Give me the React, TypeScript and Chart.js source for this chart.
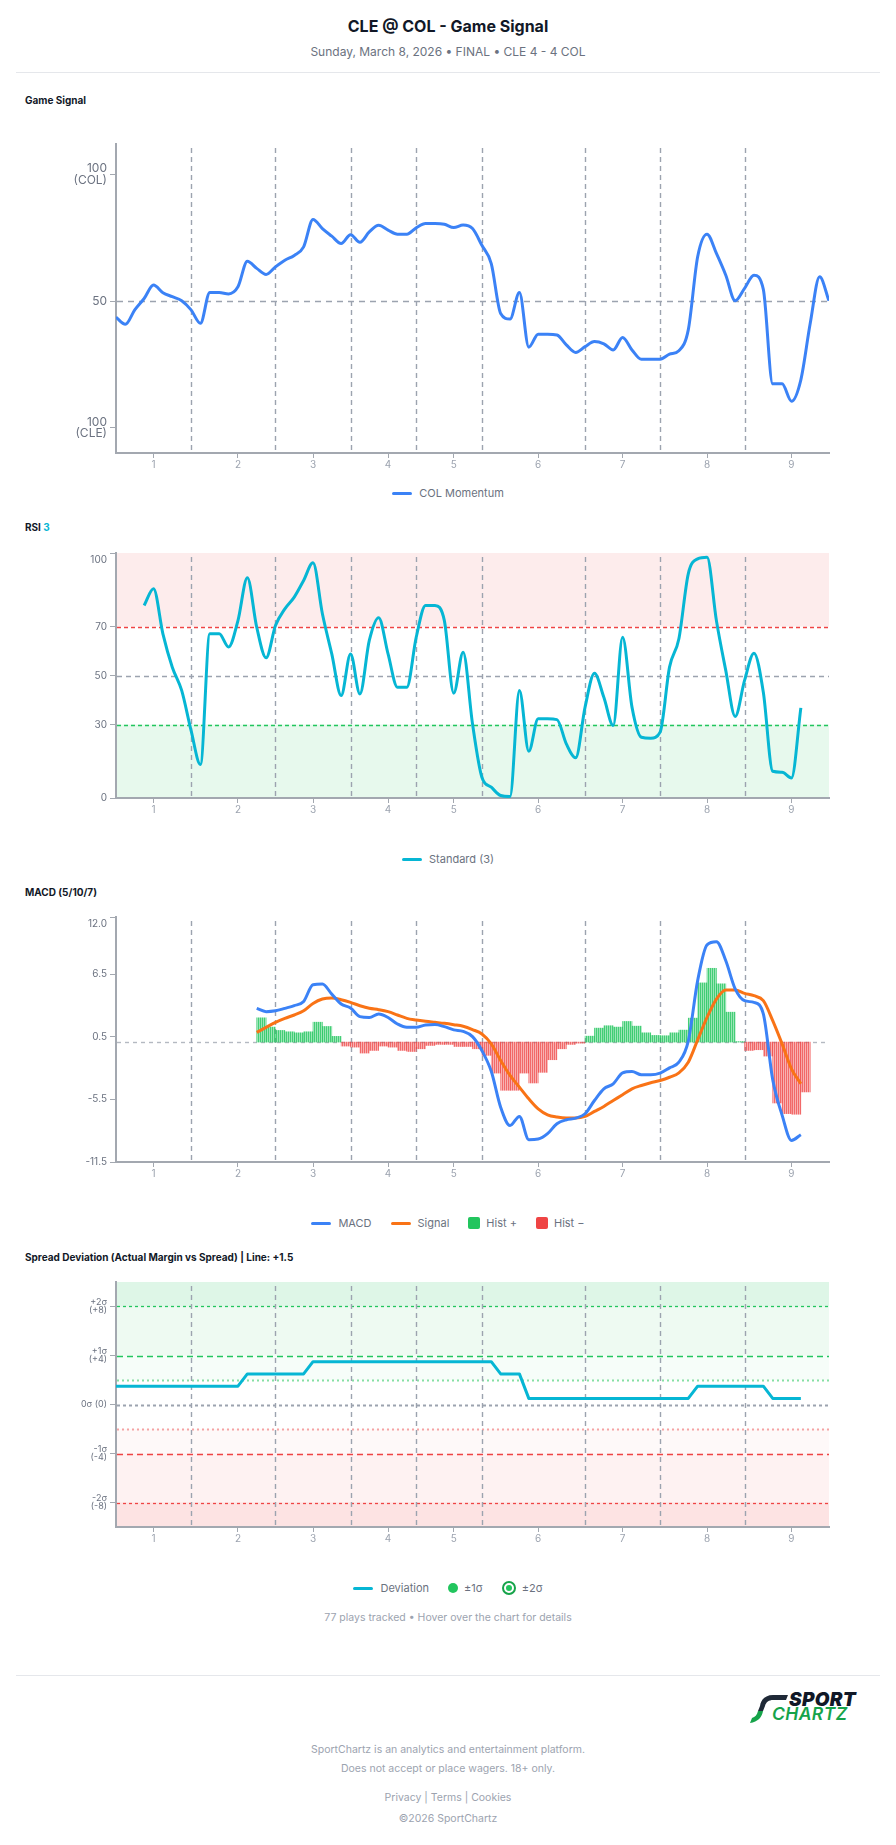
import React, { useEffect, useRef } from 'react';
import { Chart, registerables } from 'chart.js';

Chart.register(...registerables);

const FONT = "Inter, 'Noto Sans', 'DejaVu Sans', sans-serif";
Chart.defaults.font.family = FONT;

// ---------- data ----------
const INNING_LABELS = ['1', '2', '3', '4', '5', '6', '7', '8', '9'];
const INNING_TICKS = [4, 13, 21, 29, 36, 45, 54, 63, 72];
const INNING_BREAKS = [8, 17, 25, 32, 39, 50, 58, 67];
const PLAY_MAX = 76;

const MOMENTUM = [
  43.6, 40.8, 46.5, 51, 56.3, 53.3, 51.7, 50.1, 46.5, 41.2,
  53.4, 53.4, 52.8, 55.6, 65.7, 62.9, 60.5, 63.5, 66.1, 68,
  71.4, 82.2, 78.6, 75.6, 72.7, 76.2, 73.2, 77.3, 79.9, 78,
  76.4, 76.4, 78.9, 80.6, 80.6, 80.3, 79, 80, 78.6, 72,
  64.8, 45.1, 42.9, 53.4, 31.8, 36.9, 36.9, 36.6, 32.7, 29.7,
  32, 34, 33.1, 30.7, 35.6, 30.7, 27, 27, 27, 29,
  30.4, 38.6, 67.5, 76.4, 68.8, 60.2, 50.1, 55, 60.2, 54.6,
  17.3, 17.3, 10.4, 18.9, 41.2, 59.6, 50.1,
];
const SIGNAL_TICKS = [100, 50, 0];
const SIGNAL_TICK_LABELS = [['100', '(COL)'], ['50'], ['100', '(CLE)']];

const RSI_START = 3;
const RSI_VALUES = [
  78.6, 85.4, 67, 53.4, 43.9, 27.6, 13.7, 67, 67, 61.6,
  72.4, 89.9, 69.7, 57.2, 70.4, 77.2, 82, 88.8, 96, 75.2,
  58.8, 41.8, 58.8, 42.5, 64.3, 73.6, 58.8, 45.2, 45.2, 65.6,
  78.6, 78.6, 72.4, 42.8, 59.5, 30.3, 8.5, 4.4, 1, 0.6,
  43.9, 19.1, 32.3, 32.3, 32, 22.1, 16.4, 37.1, 50.9, 41.1,
  29.6, 65.6, 37.1, 24.8, 24.4, 26.9, 53.4, 65, 91.5, 97.6,
  98.3, 72.4, 52, 33.3, 48, 59.1, 43.2, 10.9, 10.5, 8.2,
  36.8,
];
const RSI_TICKS = [100, 70, 50, 30, 0];
const RSI_TICK_LABELS = ['100', '70', '50', '30', '0'];

const MACD_START = 15;
const MACD_VALUES = [
  3.24, 2.92, 3.0, 3.24, 3.5, 3.9, 5.5, 5.57, 4.6, 3.65,
  3.27, 2.44, 2.36, 2.7, 2.36, 1.74, 1.42, 1.42, 1.65, 1.68,
  1.48, 1.17, 1.03, 0.53, -0.81, -2.8, -6.24, -8.0, -7.13, -9.36,
  -9.3, -8.78, -7.83, -7.45, -7.29, -6.87, -5.6, -4.48, -4.0, -2.95,
  -2.82, -3.14, -3.14, -2.98, -2.47, -1.93, 0.1, 5.9, 9.33, 9.62,
  7.8, 5.1, 3.97, 3.81, 2.7, -3.6, -7.0, -9.43, -8.88,
];
const SIGNAL_VALUES = [
  0.94, 1.42, 1.9, 2.28, 2.6, 3.0, 3.71, 4.13, 4.23, 4.07,
  3.81, 3.49, 3.24, 3.11, 2.92, 2.6, 2.28, 2.12, 2.0, 1.9,
  1.8, 1.67, 1.52, 1.2, 0.78, -0.17, -1.77, -3.2, -4.32, -5.44,
  -6.4, -6.97, -7.19, -7.29, -7.29, -7.13, -6.65, -6.17, -5.6, -5.05,
  -4.48, -4.16, -3.9, -3.68, -3.37, -2.95, -1.93, 0.21, 2.37, 4.13,
  5.0, 5.0, 4.67, 4.45, 3.97, 2.06, -0.17, -2.56, -4.0,
];
const HIST_VALUES = [
  2.33, 1.44, 1.12, 0.99, 0.89, 0.99, 1.91, 1.5, 0.55, -0.38,
  -0.48, -1.05, -0.8, -0.38, -0.48, -0.8, -0.9, -0.64, -0.32, -0.22,
  -0.22, -0.42, -0.42, -0.64, -1.27, -2.97, -4.62, -4.62, -2.97, -3.92,
  -2.9, -1.69, -0.64, -0.22, -0.1, 0.57, 1.34, 1.57, 1.44, 1.98,
  1.53, 0.89, 0.64, 0.61, 0.89, 1.15, 2.3, 5.68, 7.08, 5.59,
  2.87, 0.05, -0.8, -0.73, -1.34, -5.84, -6.86, -6.92, -4.78,
];
const MACD_TICKS = [12, 6.5, 0.5, -5.5, -11.5];
const MACD_TICK_LABELS = ['12.0', '6.5', '0.5', '-5.5', '-11.5'];

const DEVIATION = [
  1.5, 1.5, 1.5, 1.5, 1.5, 1.5, 1.5, 1.5, 1.5, 1.5, 1.5, 1.5, 1.5, 1.5,
  2.5, 2.5, 2.5, 2.5, 2.5, 2.5, 2.5,
  3.5, 3.5, 3.5, 3.5, 3.5, 3.5, 3.5, 3.5, 3.5, 3.5, 3.5, 3.5, 3.5, 3.5, 3.5, 3.5, 3.5, 3.5, 3.5, 3.5,
  2.5, 2.5, 2.5,
  0.5, 0.5, 0.5, 0.5, 0.5, 0.5, 0.5, 0.5, 0.5, 0.5, 0.5, 0.5, 0.5, 0.5, 0.5, 0.5, 0.5, 0.5,
  1.5, 1.5, 1.5, 1.5, 1.5, 1.5, 1.5, 1.5,
  0.5, 0.5, 0.5, 0.5,
];
const SPREAD_TICKS = [8, 4, 0, -4, -8];
const SPREAD_TICK_LABELS = [['+2σ', '(+8)'], ['+1σ', '(+4)'], ['0σ (0)'], ['-1σ', '(-4)'], ['-2σ', '(-8)']];

const LEGEND_SIGNAL = [{ kind: 'line', color: '#3b82f6', label: 'COL Momentum' }];
const LEGEND_RSI = [{ kind: 'line', color: '#06b6d4', label: 'Standard (3)' }];
const LEGEND_MACD = [
  { kind: 'line', color: '#3b82f6', label: 'MACD' },
  { kind: 'line', color: '#f97316', label: 'Signal' },
  { kind: 'box', color: '#22c55e', label: 'Hist +' },
  { kind: 'box', color: '#ef4444', label: 'Hist −' },
];
const LEGEND_SPREAD = [
  { kind: 'line', color: '#06b6d4', label: 'Deviation' },
  { kind: 'dot', color: '#22c55e', label: '±1σ' },
  { kind: 'ring', color: '#16a34a', label: '±2σ' },
];

// ---------- styling ----------
const AXIS = '#a3a8b0';
const BLUE = '#3b82f6';
const CYAN = '#06b6d4';
const ORANGE = '#f97316';
const GREEN = '#22c55e';
const RED = '#ef4444';
const CANVAS_W = 864;

type Band = { from: number; to: number; color: string };
type HLine = { value: number; color: string; dash: number[]; width: number };
type Overlay = {
  bands?: Band[];
  hlines?: HLine[];
  yTicks: number[];
  yLabels: (string | string[])[];
  yFont: number;
  yLineHeight: number;
};

function makeOverlay(o: Overlay) {
  return {
    id: 'overlay',
    beforeDraw(chart: any) {
      const { ctx, chartArea: a, scales } = chart;
      const y = scales.y;
      ctx.save();
      for (const b of o.bands || []) {
        const y1 = y.getPixelForValue(b.to);
        const y2 = y.getPixelForValue(b.from);
        ctx.fillStyle = b.color;
        ctx.fillRect(a.left, y1, a.right - a.left, y2 - y1);
      }
      ctx.restore();
    },
    beforeDatasetsDraw(chart: any) {
      const { ctx, chartArea: a, scales } = chart;
      const x = scales.x;
      const y = scales.y;
      ctx.save();
      for (const l of o.hlines || []) {
        const py = Math.round(y.getPixelForValue(l.value)) + 0.5;
        ctx.beginPath();
        ctx.setLineDash(l.dash);
        ctx.lineWidth = l.width;
        ctx.strokeStyle = l.color;
        ctx.moveTo(a.left + 1, py);
        ctx.lineTo(a.right, py);
        ctx.stroke();
      }
      ctx.setLineDash([5, 4]);
      ctx.lineDashOffset = 0;
      ctx.lineWidth = 1.4;
      ctx.strokeStyle = '#9ca3af';
      for (const v of INNING_BREAKS) {
        const px = Math.round(x.getPixelForValue(v)) + 0.5;
        ctx.beginPath();
        ctx.moveTo(px, a.top + 4);
        ctx.lineTo(px, a.bottom);
        ctx.stroke();
      }
      ctx.restore();
    },
    afterDraw(chart: any) {
      const { ctx, chartArea: a, scales } = chart;
      const y = scales.y;
      ctx.save();
      ctx.font = `${o.yFont}px ${FONT}`;
      ctx.fillStyle = '#6b7280';
      ctx.textAlign = 'right';
      ctx.textBaseline = 'middle';
      o.yTicks.forEach((v, i) => {
        const raw = o.yLabels[i];
        const lines = Array.isArray(raw) ? raw : [raw];
        const h = lines.length * o.yLineHeight;
        let cy = y.getPixelForValue(v);
        if (cy - h / 2 < a.top) cy = a.top + h / 2 + 1;
        lines.forEach((t, j) => {
          ctx.fillText(t, a.left - 9, cy - h / 2 + o.yLineHeight * (j + 0.5));
        });
      });
      ctx.restore();
    },
  };
}

function xScale(height: number) {
  return {
    type: 'linear',
    min: 0,
    max: PLAY_MAX,
    offset: false,
    afterBuildTicks: (s: any) => {
      s.ticks = INNING_TICKS.map((v) => ({ value: v }));
    },
    afterFit: (s: any) => {
      s.height = height;
    },
    ticks: {
      autoSkip: false,
      maxRotation: 0,
      minRotation: 0,
      color: '#9ca3af',
      font: { size: 10 },
      padding: 1,
      callback: (v: number) => {
        const i = INNING_TICKS.indexOf(v);
        return i >= 0 ? INNING_LABELS[i] : '';
      },
    },
    grid: { display: true, offset: false, drawOnChartArea: false, drawTicks: true, tickLength: 5, color: AXIS, lineWidth: 1 },
    border: { display: true, color: AXIS, width: 2 },
  };
}

function yScale(min: number, max: number, ticks: number[]) {
  return {
    type: 'linear',
    min,
    max,
    afterBuildTicks: (s: any) => {
      s.ticks = ticks.map((v) => ({ value: v }));
    },
    afterFit: (s: any) => {
      s.width = 100;
    },
    ticks: { display: false },
    grid: { display: true, drawOnChartArea: false, drawTicks: true, tickLength: 6, color: AXIS, lineWidth: 1 },
    border: { display: true, color: AXIS, width: 2 },
  };
}

function baseOptions(padTop: number, xHeight: number, min: number, max: number, ticks: number[]) {
  return {
    responsive: false,
    animation: false,
    events: [],
    layout: { padding: { top: padTop, right: 51, bottom: 0, left: 0 } },
    scales: { x: xScale(xHeight), y: yScale(min, max, ticks) },
    plugins: { legend: { display: false }, tooltip: { enabled: false } },
  };
}

function stripe(canvas: HTMLCanvasElement, c1: string, c2: string) {
  const p = document.createElement('canvas');
  p.width = 2;
  p.height = 1;
  const g = p.getContext('2d')!;
  g.fillStyle = c1;
  g.fillRect(0, 0, 1, 1);
  g.fillStyle = c2;
  g.fillRect(1, 0, 1, 1);
  return canvas.getContext('2d')!.createPattern(p, 'repeat');
}

function signalConfig() {
  return {
    type: 'line',
    data: {
      datasets: [
        {
          data: MOMENTUM.map((v, i) => ({ x: i, y: v })),
          borderColor: BLUE,
          borderWidth: 3,
          pointRadius: 0,
          cubicInterpolationMode: 'monotone',
          fill: false,
        },
      ],
    },
    options: baseOptions(24, 25, -10, 112, SIGNAL_TICKS),
    plugins: [
      makeOverlay({
        hlines: [{ value: 50, color: '#9ca3af', dash: [6, 5], width: 1.4 }],
        yTicks: SIGNAL_TICKS,
        yLabels: SIGNAL_TICK_LABELS,
        yFont: 12,
        yLineHeight: 11.5,
      }),
    ],
  };
}

function rsiConfig() {
  return {
    type: 'line',
    data: {
      datasets: [
        {
          data: RSI_VALUES.map((v, i) => ({ x: i + RSI_START, y: v })),
          borderColor: CYAN,
          borderWidth: 3,
          pointRadius: 0,
          cubicInterpolationMode: 'monotone',
          fill: false,
        },
      ],
    },
    options: baseOptions(17, 24, 0, 100, RSI_TICKS),
    plugins: [
      makeOverlay({
        bands: [
          { from: 70, to: 100, color: 'rgba(239,68,68,0.1)' },
          { from: 0, to: 30, color: 'rgba(34,197,94,0.11)' },
        ],
        hlines: [
          { value: 70, color: RED, dash: [4, 3], width: 1.3 },
          { value: 50, color: '#9ca3af', dash: [5, 4], width: 1.3 },
          { value: 30, color: GREEN, dash: [4, 3], width: 1.3 },
        ],
        yTicks: RSI_TICKS,
        yLabels: RSI_TICK_LABELS,
        yFont: 10,
        yLineHeight: 12,
      }),
    ],
  };
}

function macdConfig(canvas: HTMLCanvasElement) {
  const gPat = stripe(canvas, 'rgba(34,197,94,0.85)', 'rgba(34,197,94,0.45)');
  const rPat = stripe(canvas, 'rgba(239,68,68,0.8)', 'rgba(239,68,68,0.42)');
  return {
    type: 'line',
    data: {
      datasets: [
        {
          type: 'line',
          order: 0,
          data: MACD_VALUES.map((v, i) => ({ x: i + MACD_START, y: v })),
          borderColor: BLUE,
          borderWidth: 3,
          pointRadius: 0,
          cubicInterpolationMode: 'monotone',
          fill: false,
        },
        {
          type: 'line',
          order: 0,
          data: SIGNAL_VALUES.map((v, i) => ({ x: i + MACD_START, y: v })),
          borderColor: ORANGE,
          borderWidth: 3,
          pointRadius: 0,
          cubicInterpolationMode: 'monotone',
          fill: false,
        },
        {
          type: 'bar',
          order: 2,
          data: HIST_VALUES.map((v, i) => ({ x: i + MACD_START + 0.5, y: v })),
          backgroundColor: HIST_VALUES.map((v) => (v >= 0 ? gPat : rPat)),
          borderWidth: 0,
          barPercentage: 1,
          categoryPercentage: 1,
        },
      ],
    },
    options: baseOptions(17, 24, -11.5, 12, MACD_TICKS),
    plugins: [
      makeOverlay({
        hlines: [{ value: 0, color: '#b4b9c1', dash: [4, 4], width: 1.4 }],
        yTicks: MACD_TICKS,
        yLabels: MACD_TICK_LABELS,
        yFont: 10,
        yLineHeight: 12,
      }),
    ],
  };
}

function spreadConfig() {
  return {
    type: 'line',
    data: {
      datasets: [
        {
          data: DEVIATION.map((v, i) => ({ x: i, y: v })),
          borderColor: CYAN,
          borderWidth: 3,
          borderJoinStyle: 'round',
          pointRadius: 0,
          tension: 0,
          fill: false,
        },
      ],
    },
    options: baseOptions(17, 24, -10, 10, SPREAD_TICKS),
    plugins: [
      makeOverlay({
        bands: [
          { from: 8, to: 10, color: 'rgba(34,197,94,0.15)' },
          { from: 4, to: 8, color: 'rgba(34,197,94,0.08)' },
          { from: 2, to: 4, color: 'rgba(34,197,94,0.04)' },
          { from: -4, to: -2, color: 'rgba(239,68,68,0.03)' },
          { from: -8, to: -4, color: 'rgba(239,68,68,0.07)' },
          { from: -10, to: -8, color: 'rgba(239,68,68,0.15)' },
        ],
        hlines: [
          { value: 8, color: GREEN, dash: [3, 3], width: 1.3 },
          { value: 4, color: GREEN, dash: [6, 4], width: 1.3 },
          { value: 2, color: '#86e0a4', dash: [2, 3], width: 2 },
          { value: 0, color: '#9ca3af', dash: [3, 3], width: 2 },
          { value: -2, color: '#f5a3a3', dash: [2, 3], width: 2 },
          { value: -4, color: RED, dash: [6, 4], width: 1.3 },
          { value: -8, color: RED, dash: [3, 3], width: 1.3 },
        ],
        yTicks: SPREAD_TICKS,
        yLabels: SPREAD_TICK_LABELS,
        yFont: 9,
        yLineHeight: 8.5,
      }),
    ],
  };
}

function ChartCanvas({ top, height, build }: { top: number; height: number; build: (c: HTMLCanvasElement) => any }) {
  const ref = useRef<HTMLCanvasElement>(null);
  useEffect(() => {
    const c = ref.current!;
    const chart = new Chart(c, build(c));
    return () => chart.destroy();
  }, []);
  return (
    <canvas
      ref={ref}
      width={CANVAS_W}
      height={height}
      style={{ position: 'absolute', left: 16, top, width: CANVAS_W, height }}
    />
  );
}

function Marker({ kind, color }: { kind: string; color: string }) {
  if (kind === 'line') return <span style={{ display: 'inline-block', width: 20, height: 3, borderRadius: 2, background: color }} />;
  if (kind === 'box') return <span style={{ display: 'inline-block', width: 12, height: 12, borderRadius: 2, background: color }} />;
  if (kind === 'dot') return <span style={{ display: 'inline-block', width: 10, height: 10, borderRadius: '50%', background: color }} />;
  return (
    <span
      style={{
        display: 'inline-flex',
        alignItems: 'center',
        justifyContent: 'center',
        width: 14,
        height: 14,
        boxSizing: 'border-box',
        borderRadius: '50%',
        border: `2px solid ${color}`,
      }}
    >
      <span style={{ width: 6, height: 6, borderRadius: '50%', background: GREEN }} />
    </span>
  );
}

function Legend({ center, items }: { center: number; items: { kind: string; color: string; label: string }[] }) {
  return (
    <div
      style={{
        position: 'absolute',
        left: 16,
        width: CANVAS_W,
        top: center - 9,
        height: 18,
        display: 'flex',
        justifyContent: 'center',
        alignItems: 'center',
        gap: 19,
        fontFamily: FONT,
        fontSize: 11,
        color: '#6b7280',
      }}
    >
      {items.map((it) => (
        <div key={it.label} style={{ display: 'flex', alignItems: 'center', gap: it.kind === 'line' ? 7 : 6 }}>
          <Marker kind={it.kind} color={it.color} />
          <span>{it.label}</span>
        </div>
      ))}
    </div>
  );
}

function Text({ top, children, style }: { top: number; children: any; style?: any }) {
  return (
    <div style={{ position: 'absolute', left: 0, width: 896, top, fontFamily: FONT, textAlign: 'center', ...style }}>
      {children}
    </div>
  );
}

function SectionTitle({ center, children }: { center: number; children: any }) {
  return (
    <div
      style={{
        position: 'absolute',
        left: 25,
        top: center - 7,
        lineHeight: '14px',
        fontFamily: FONT,
        fontSize: 10,
        fontWeight: 700,
        color: '#111827',
        whiteSpace: 'nowrap',
      }}
    >
      {children}
    </div>
  );
}

const FOOT = { fontSize: 10.5, lineHeight: '14px', color: '#9ca3af' };

export default function App() {
  return (
    <div style={{ position: 'absolute', left: 0, top: 0, width: 896, height: 1845, background: '#fff', overflow: 'hidden' }}>
      <Text top={16} style={{ fontSize: 16, fontWeight: 700, lineHeight: '20px', color: '#111827' }}>
        CLE @ COL - Game Signal
      </Text>
      <Text top={45} style={{ fontSize: 12, lineHeight: '14px', color: '#6b7280' }}>
        Sunday, March 8, 2026 • FINAL • CLE 4 - 4 COL
      </Text>
      <div style={{ position: 'absolute', left: 16, top: 72, width: CANVAS_W, height: 1, background: '#e5e7eb' }} />

      <SectionTitle center={100}>Game Signal</SectionTitle>
      <ChartCanvas top={120} height={358} build={() => signalConfig()} />
      <Legend center={493} items={LEGEND_SIGNAL} />

      <SectionTitle center={527}>
        RSI <span style={{ color: CYAN }}>3</span>
      </SectionTitle>
      <ChartCanvas top={536} height={286} build={() => rsiConfig()} />
      <Legend center={859} items={LEGEND_RSI} />

      <SectionTitle center={892}>MACD (5/10/7)</SectionTitle>
      <ChartCanvas top={900} height={286} build={(c) => macdConfig(c)} />
      <Legend center={1223} items={LEGEND_MACD} />

      <SectionTitle center={1257}>Spread Deviation (Actual Margin vs Spread) | Line: +1.5</SectionTitle>
      <ChartCanvas top={1265} height={286} build={() => spreadConfig()} />
      <Legend center={1588} items={LEGEND_SPREAD} />

      <Text top={1611} style={FOOT}>
        77 plays tracked • Hover over the chart for details
      </Text>

      <div style={{ position: 'absolute', left: 16, top: 1675, width: CANVAS_W, height: 1, background: '#e5e7eb' }} />

      <div style={{ position: 'absolute', left: 749, top: 1694, width: 116, height: 30 }}>
        <svg width="40" height="30" viewBox="0 0 40 30" style={{ position: 'absolute', left: 0, top: 0 }}>
          <path d="M39 1 L24 1 C17 1 12 5 11 12 L9 17 L14 17 L16 12 C17 8 20 6 24 6 L37 6 Z" fill="#1f2937" />
          <path d="M9 17 L14 17 C13 23 9 28 1 29 L3 24 C6 23 8 21 9 17 Z" fill="#16a34a" />
        </svg>
        <span
          style={{
            position: 'absolute',
            left: 40,
            top: -4,
            fontFamily: FONT,
            fontStyle: 'italic',
            fontWeight: 900,
            fontSize: 19,
            letterSpacing: 0.3,
            color: '#111827',
            lineHeight: '19px',
          }}
        >
          SPORT
        </span>
        <span
          style={{
            position: 'absolute',
            left: 23,
            top: 11,
            fontFamily: FONT,
            fontStyle: 'italic',
            fontWeight: 600,
            fontSize: 17.5,
            letterSpacing: 0.4,
            color: '#16a34a',
            lineHeight: '18px',
          }}
        >
          CHARTZ
        </span>
      </div>

      <Text top={1743} style={FOOT}>
        SportChartz is an analytics and entertainment platform.
      </Text>
      <Text top={1762} style={FOOT}>
        Does not accept or place wagers. 18+ only.
      </Text>
      <Text top={1791} style={FOOT}>
        Privacy | Terms | Cookies
      </Text>
      <Text top={1812} style={FOOT}>
        ©2026 SportChartz
      </Text>
    </div>
  );
}
